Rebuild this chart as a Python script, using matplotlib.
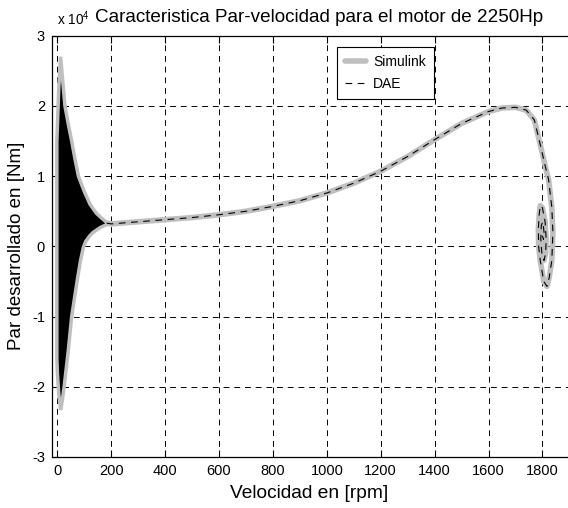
import matplotlib
matplotlib.use("Agg")
import matplotlib.pyplot as plt
import numpy as np

plt.rcParams['font.family'] = ['Liberation Sans', 'DejaVu Sans']
plt.rcParams['mathtext.fontset'] = 'custom'
plt.rcParams['mathtext.rm'] = 'Liberation Sans'
plt.rcParams['axes.unicode_minus'] = False

# arranque: envolvente de la oscilacion (rpm, par x 1e4 Nm)
env_up_x = [-2, 0, 5, 12, 20, 28, 40, 53, 65, 78, 90, 100, 121, 145, 165, 183, 200]
env_up_y = [1.5, 1.7, 2.25, 2.70, 2.35, 2.0, 1.75, 1.5, 1.25, 1.0, 0.88, 0.78, 0.6, 0.47, 0.40, 0.34, 0.32]
env_lo_x = [-2, 0, 5, 12, 18, 25, 40, 53, 65, 75, 86, 96, 105, 120, 133, 160, 183, 200]
env_lo_y = [-1.6, -1.8, -2.1, -2.33, -2.2, -2.0, -1.5, -1.0, -0.7, -0.45, -0.2, -0.02, 0.07, 0.15, 0.2, 0.27, 0.31, 0.32]

# curva par-velocidad despues del arranque
vel = [183, 200, 300, 400, 500, 600, 700, 800, 900, 1000, 1100, 1200, 1300, 1400,
       1500, 1600, 1650, 1700, 1740, 1770, 1792, 1810, 1823, 1835, 1839, 1835, 1825,
       1817, 1805, 1792, 1786, 1785, 1788, 1792, 1800, 1810, 1814, 1812, 1806, 1798,
       1794, 1796, 1802, 1806, 1804, 1800]
par = [0.33, 0.32, 0.35, 0.38, 0.41, 0.45, 0.50, 0.57, 0.65, 0.76, 0.90, 1.07, 1.28, 1.52,
       1.75, 1.92, 1.97, 1.98, 1.94, 1.80, 1.45, 1.15, 0.95, 0.55, 0.2, -0.2, -0.45,
       -0.57, -0.5, -0.2, 0.0, 0.25, 0.45, 0.58, 0.55, 0.35, 0.1, -0.1, -0.2, -0.1,
       0.1, 0.3, 0.35, 0.2, 0.1, 0.15]

xticks = [0, 200, 400, 600, 800, 1000, 1200, 1400, 1600, 1800]
yticks = [-3, -2, -1, 0, 1, 2, 3]

gray = '#bfbfbf'

fig = plt.figure(figsize=(5.68, 5.08), dpi=100)
ax = fig.add_axes([52 / 568, 1 - 457 / 508, 1 - 52 / 568, (457 - 35.7) / 508])

# zona de oscilacion (negro denso con borde gris)
poly_x = np.r_[env_up_x, env_lo_x[::-1]]
poly_y = np.r_[env_up_y, env_lo_y[::-1]]
ax.fill(poly_x, poly_y, facecolor='black', edgecolor=gray, linewidth=2.5, zorder=3)

ax.plot(vel, par, color=gray, linewidth=4, solid_capstyle='round', zorder=2,
        label='Simulink')
ax.plot(vel, par, color='black', linewidth=0.8, linestyle=(0, (6, 5)), zorder=4,
        label='DAE')

ax.set_xlim(-20, 1895)
ax.set_ylim(-3, 3)
ax.set_xticks(xticks)
ax.set_yticks(yticks)
ax.tick_params(direction='in', length=5, top=True, right=False, labelsize=10.5,
               width=0.8, pad=5)
ax.spines['right'].set_visible(False)
for s in ['left', 'top', 'bottom']:
    ax.spines[s].set_linewidth(0.9)
ax.grid(True, color='black', linestyle=(0, (6, 5)), linewidth=0.7)
ax.set_axisbelow(True)

leg = ax.legend(loc='upper left', bbox_to_anchor=((337 - 52) / 516, (457 - 47) / 421.3),
                fontsize=10, frameon=True, fancybox=False, framealpha=1,
                edgecolor='black', handlelength=1.5, handletextpad=0.5,
                borderpad=0.6, labelspacing=0.55, borderaxespad=0)
leg.get_frame().set_linewidth(0.8)

fig.text(319 / 568, 1 - 17 / 508, 'Caracteristica Par-velocidad para el motor de 2250Hp',
         ha='center', va='center', fontsize=13.6)
fig.text(57 / 568, 1 - 19 / 508, r'x 10$^4$', ha='left', va='center', fontsize=9.8)
fig.text(309 / 568, 1 - 493 / 508, 'Velocidad en [rpm]', ha='center', va='center',
         fontsize=13.8)
fig.text(17 / 568, 1 - 246 / 508, 'Par desarrollado en [Nm]', ha='center', va='center',
         rotation=90, fontsize=13.5)

fig.savefig('out.png', dpi=100)
